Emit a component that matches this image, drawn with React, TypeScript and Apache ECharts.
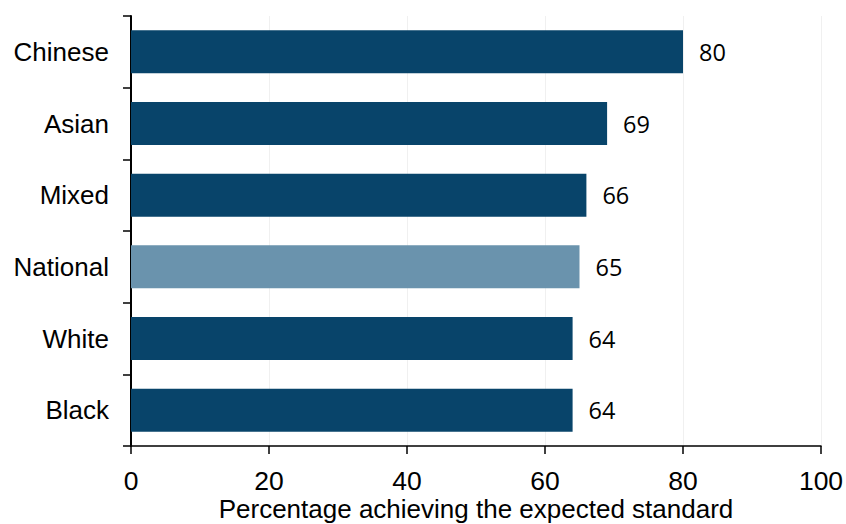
import React, { useEffect, useRef } from "react";
import * as echarts from "echarts";

const categories = ["Chinese", "Asian", "Mixed", "National", "White", "Black"];
const values = [80, 69, 66, 65, 64, 64];
const highlight = "National";
const xTicks = [0, 20, 40, 60, 80, 100];
const axisTitle = "Percentage achieving the expected standard";

export default function App() {
  const ref = useRef<HTMLDivElement>(null);
  useEffect(() => {
    const chart = echarts.init(ref.current!, null, { renderer: "svg" });
    chart.setOption({
      animation: false,
      grid: { left: 131, right: 25, top: 16, bottom: 78, containLabel: false, outerBoundsMode: "none" },
      xAxis: {
        type: "value",
        min: xTicks[0],
        max: xTicks[xTicks.length - 1],
        interval: 20,
        name: axisTitle,
        nameLocation: "middle",
        nameGap: 50,
        nameMoveOverlap: false,
        nameTextStyle: { fontFamily: "Liberation Sans", fontSize: 26, color: "#000" },
        axisLine: { show: true, lineStyle: { color: "#000", width: 1.5 } },
        axisTick: { show: true, length: 8, lineStyle: { color: "#000", width: 1.5 } },
        axisLabel: { fontFamily: "Liberation Sans", fontSize: 26.5, color: "#000", margin: 21 },
        splitLine: { show: true, lineStyle: { color: "#f0f0f0", width: 1 } },
      },
      yAxis: {
        type: "category",
        data: categories,
        inverse: true,
        axisLine: { show: true, lineStyle: { color: "#000", width: 2 } },
        axisTick: { show: true, length: 8, alignWithLabel: false, lineStyle: { color: "#000", width: 1.5 } },
        axisLabel: { fontFamily: "Liberation Sans", fontSize: 26, color: "#000", margin: 22 },
        splitLine: { show: false },
      },
      series: [
        {
          type: "bar",
          data: values.map((v, i) => ({
            value: v,
            itemStyle: { color: categories[i] === highlight ? "#6a93ad" : "#08446a" },
          })),
          barWidth: 43,
          label: {
            show: true,
            position: "right",
            distance: 16,
            fontFamily: "Open Sans",
            fontSize: 23.5,
            color: "#000",
          },
        },
      ],
    });
    return () => chart.dispose();
  }, []);
  return <div ref={ref} style={{ width: 846, height: 524, position: "absolute", left: 0, top: 0 }} />;
}
